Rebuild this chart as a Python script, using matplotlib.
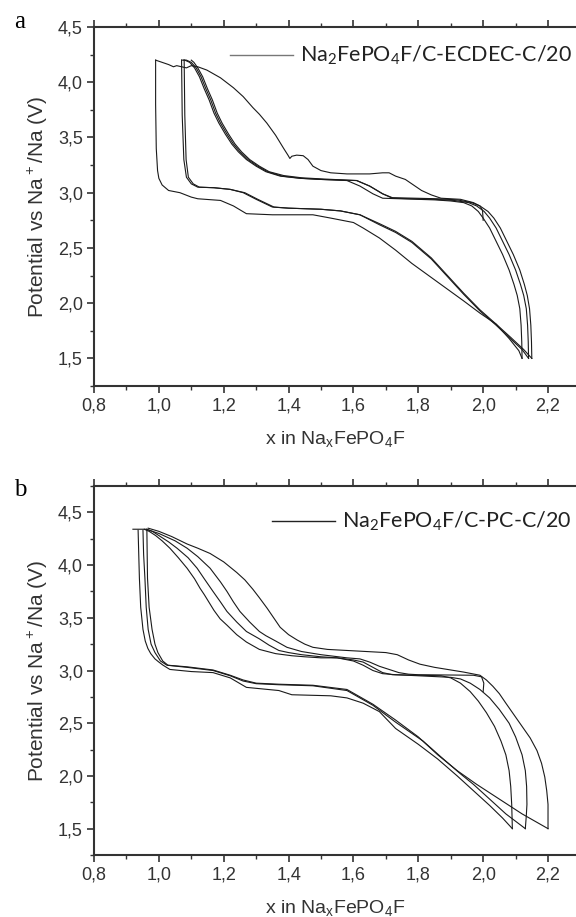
import numpy as np
import matplotlib.pyplot as plt
from matplotlib.ticker import MultipleLocator

########################
#### Panel a (ECDEC) ###
########################

# first charge (starts at x=2.0), then the high-voltage tail to x=0.99
a_ch1_x = [2.0, 1.998, 1.99, 1.97, 1.93, 1.87, 1.84, 1.81, 1.785, 1.76, 1.73, 1.71, 1.69, 1.65, 1.58,
           1.53, 1.50, 1.475, 1.46, 1.445, 1.425, 1.41, 1.404, 1.398, 1.385, 1.36, 1.333, 1.31, 1.29,
           1.26, 1.23, 1.19, 1.148, 1.12, 1.10, 1.085, 1.07, 1.055, 1.045, 1.03, 1.01, 0.99]
a_ch1_y = [2.75, 2.84, 2.88, 2.91, 2.94, 2.95, 2.98, 3.02, 3.07, 3.12, 3.15, 3.18, 3.18, 3.17, 3.17,
           3.18, 3.20, 3.24, 3.30, 3.335, 3.34, 3.33, 3.31, 3.34, 3.40, 3.52, 3.63, 3.71, 3.77,
           3.87, 3.95, 4.04, 4.11, 4.14, 4.15, 4.13, 4.14, 4.15, 4.14, 4.16, 4.18, 4.20]

# discharges
a_dis1_x = [0.99, 0.99, 0.992, 0.996, 1.0, 1.01, 1.03, 1.065, 1.10, 1.12, 1.19, 1.23, 1.27, 1.35, 1.475,
            1.53, 1.60, 1.63, 1.68, 1.73, 1.78, 1.86, 1.94, 1.99, 2.04, 2.08, 2.11, 2.12]
a_dis1_y = [4.20, 3.80, 3.40, 3.20, 3.13, 3.07, 3.02, 3.00, 2.96, 2.945, 2.93, 2.88, 2.81, 2.80, 2.80,
            2.77, 2.73, 2.68, 2.59, 2.48, 2.36, 2.19, 2.02, 1.91, 1.81, 1.68, 1.57, 1.50]

a_dis2_x = [1.07, 1.072, 1.077, 1.085, 1.10, 1.12, 1.17, 1.22, 1.26, 1.30, 1.35, 1.40, 1.50, 1.56,
            1.62, 1.68, 1.73, 1.78, 1.84, 1.89, 1.94, 1.99, 2.04, 2.08, 2.12, 2.14]
a_dis2_y = [4.20, 3.70, 3.30, 3.14, 3.08, 3.05, 3.045, 3.03, 3.00, 2.94, 2.87, 2.86, 2.85, 2.835,
            2.80, 2.71, 2.64, 2.55, 2.40, 2.24, 2.08, 1.93, 1.80, 1.69, 1.58, 1.50]

a_dis3_x = [1.078, 1.08, 1.084, 1.091, 1.106, 1.125, 1.17, 1.22, 1.265, 1.305, 1.355, 1.40, 1.50, 1.56,
            1.62, 1.68, 1.73, 1.78, 1.84, 1.89, 1.94, 1.99, 2.04, 2.085, 2.125, 2.15]
a_dis3_y = [4.20, 3.70, 3.30, 3.14, 3.08, 3.05, 3.045, 3.03, 3.00, 2.94, 2.87, 2.86, 2.85, 2.835,
            2.80, 2.72, 2.65, 2.56, 2.41, 2.25, 2.09, 1.94, 1.81, 1.69, 1.58, 1.50]

# charges after each discharge
a_ch2_x = [2.12, 2.119, 2.117, 2.113, 2.105, 2.095, 2.08, 2.06, 2.04, 2.02, 2.0, 1.985, 1.965, 1.94,
           1.90, 1.85, 1.69, 1.66, 1.62, 1.58, 1.50, 1.435, 1.374, 1.33, 1.30, 1.27, 1.245, 1.225,
           1.205, 1.185, 1.17, 1.155, 1.14, 1.125, 1.11, 1.095, 1.08, 1.07]
a_ch2_y = [1.50, 1.65, 1.80, 1.95, 2.07, 2.17, 2.30, 2.44, 2.56, 2.68, 2.77, 2.83, 2.88, 2.91,
           2.925, 2.935, 2.95, 2.99, 3.06, 3.11, 3.12, 3.13, 3.15, 3.19, 3.24, 3.30, 3.37, 3.44,
           3.53, 3.63, 3.72, 3.84, 3.94, 4.05, 4.13, 4.18, 4.20, 4.20]

a_ch3_x = [2.14, 2.139, 2.137, 2.133, 2.125, 2.115, 2.10, 2.08, 2.06, 2.04, 2.02, 2.003, 1.98, 1.955,
           1.91, 1.85, 1.72, 1.69, 1.65, 1.61, 1.50, 1.44, 1.38, 1.335, 1.305, 1.275, 1.25, 1.23,
           1.21, 1.19, 1.175, 1.16, 1.145, 1.13, 1.115, 1.10, 1.085, 1.077]
a_ch3_y = [1.50, 1.65, 1.80, 1.95, 2.07, 2.17, 2.30, 2.44, 2.56, 2.68, 2.77, 2.83, 2.88, 2.91,
           2.93, 2.94, 2.95, 2.99, 3.06, 3.11, 3.12, 3.13, 3.15, 3.19, 3.24, 3.30, 3.37, 3.44,
           3.53, 3.63, 3.72, 3.84, 3.94, 4.05, 4.13, 4.18, 4.20, 4.20]

a_ch4_x = [2.15, 2.149, 2.147, 2.143, 2.136, 2.127, 2.113, 2.093, 2.073, 2.053, 2.033, 2.015, 1.99, 1.965,
           1.92, 1.86, 1.72, 1.69, 1.65, 1.61, 1.50, 1.44, 1.385, 1.34, 1.31, 1.28, 1.255, 1.235,
           1.215, 1.195, 1.18, 1.165, 1.15, 1.135, 1.12, 1.108, 1.10]
a_ch4_y = [1.50, 1.65, 1.80, 1.95, 2.07, 2.17, 2.30, 2.44, 2.56, 2.68, 2.77, 2.83, 2.88, 2.91,
           2.935, 2.945, 2.955, 2.99, 3.06, 3.11, 3.125, 3.135, 3.155, 3.19, 3.24, 3.30, 3.37, 3.44,
           3.53, 3.63, 3.72, 3.84, 3.94, 4.05, 4.13, 4.18, 4.20]

#####################
#### Panel b (PC) ###
#####################

b_ch1_x = [2.0, 2.002, 1.995, 1.97, 1.80, 1.77, 1.74, 1.71, 1.68, 1.65, 1.62, 1.58, 1.50, 1.44, 1.395,
           1.36, 1.33, 1.31, 1.28, 1.25, 1.23, 1.21, 1.19, 1.158, 1.12, 1.087, 1.05, 1.0, 0.96, 0.92]
b_ch1_y = [2.80, 2.88, 2.94, 2.955, 2.96, 2.965, 2.98, 3.01, 3.04, 3.08, 3.11, 3.12, 3.15, 3.18, 3.22,
           3.28, 3.33, 3.37, 3.46, 3.56, 3.65, 3.75, 3.84, 3.97, 4.08, 4.16, 4.23, 4.30, 4.34, 4.34]

b_dis1_x = [0.936, 0.938, 0.940, 0.944, 0.951, 0.958, 0.966, 0.975, 0.988, 1.0, 1.013, 1.034, 1.10, 1.167,
            1.22, 1.27, 1.37, 1.41, 1.53, 1.58, 1.63, 1.68, 1.73, 1.80, 1.86, 1.92, 1.97, 2.02, 2.06, 2.09]
b_dis1_y = [4.33, 4.10, 3.875, 3.60, 3.39, 3.28, 3.21, 3.16, 3.11, 3.08, 3.05, 3.01, 2.99, 2.98,
            2.93, 2.84, 2.81, 2.77, 2.76, 2.74, 2.69, 2.61, 2.45, 2.30, 2.16, 2.00, 1.86, 1.72, 1.60, 1.50]

b_dis2_x = [0.951, 0.953, 0.957, 0.961, 0.967, 0.976, 0.988, 1.005, 1.025, 1.087, 1.167, 1.22, 1.26, 1.30,
            1.37, 1.475, 1.58, 1.66, 1.73, 1.815, 1.87, 1.93, 1.97, 2.02, 2.07, 2.13]
b_dis2_y = [4.33, 4.10, 3.875, 3.60, 3.39, 3.25, 3.17, 3.09, 3.05, 3.03, 3.00, 2.95, 2.90, 2.875,
            2.865, 2.855, 2.81, 2.67, 2.51, 2.33, 2.18, 2.02, 1.92, 1.78, 1.64, 1.50]

b_dis3_x = [0.963, 0.964, 0.965, 0.970, 0.979, 0.988, 0.997, 1.012, 1.028, 1.087, 1.167, 1.22, 1.26, 1.30,
            1.37, 1.475, 1.58, 1.66, 1.73, 1.80, 1.86, 1.92, 1.98, 2.05, 2.12, 2.20]
b_dis3_y = [4.34, 4.10, 3.875, 3.60, 3.39, 3.25, 3.17, 3.09, 3.05, 3.035, 3.005, 2.955, 2.91, 2.88,
            2.87, 2.86, 2.82, 2.68, 2.53, 2.37, 2.20, 2.05, 1.92, 1.78, 1.64, 1.50]

b_ch2_x = [2.09, 2.089, 2.088, 2.085, 2.08, 2.07, 2.055, 2.035, 2.01, 1.985, 1.96, 1.93, 1.90, 1.87,
           1.80, 1.72, 1.69, 1.66, 1.63, 1.60, 1.55, 1.50, 1.45, 1.41, 1.36, 1.31, 1.27, 1.24, 1.21,
           1.189, 1.17, 1.158, 1.14, 1.127, 1.11, 1.087, 1.06, 1.034, 1.01, 0.99, 0.97, 0.955]
b_ch2_y = [1.50, 1.62, 1.73, 1.90, 2.05, 2.20, 2.33, 2.47, 2.60, 2.71, 2.80, 2.88, 2.93, 2.95,
           2.955, 2.96, 2.98, 3.03, 3.08, 3.10, 3.12, 3.12, 3.13, 3.14, 3.16, 3.20, 3.27, 3.34, 3.43,
           3.49, 3.57, 3.63, 3.72, 3.78, 3.87, 3.97, 4.07, 4.16, 4.23, 4.28, 4.32, 4.34]

b_ch3_x = [2.13, 2.133, 2.135, 2.134, 2.13, 2.12, 2.10, 2.08, 2.05, 2.02, 1.99, 1.96, 1.93, 1.90,
           1.80, 1.73, 1.69, 1.66, 1.63, 1.60, 1.55, 1.50, 1.44, 1.40, 1.37, 1.34, 1.31, 1.27, 1.24,
           1.21, 1.19, 1.167, 1.14, 1.118, 1.09, 1.056, 1.03, 1.0, 0.98, 0.963]
b_ch3_y = [1.50, 1.62, 1.73, 1.90, 2.05, 2.20, 2.37, 2.50, 2.63, 2.74, 2.82, 2.88, 2.92, 2.935,
           2.95, 2.96, 2.97, 3.00, 3.05, 3.09, 3.12, 3.13, 3.15, 3.17, 3.19, 3.24, 3.30, 3.37, 3.46,
           3.56, 3.65, 3.75, 3.87, 3.97, 4.07, 4.16, 4.22, 4.28, 4.32, 4.34]

b_ch4_x = [2.20, 2.20, 2.20, 2.196, 2.19, 2.18, 2.166, 2.145, 2.12, 2.095, 2.07, 2.05, 2.03, 2.01, 1.99,
           1.94, 1.89, 1.85, 1.805, 1.77, 1.735, 1.70, 1.64, 1.58, 1.52, 1.475, 1.45, 1.426, 1.40,
           1.374, 1.354, 1.334, 1.31, 1.29, 1.265, 1.24, 1.20, 1.158, 1.12, 1.087, 1.04, 1.0, 0.967]
b_ch4_y = [1.50, 1.62, 1.73, 1.86, 1.99, 2.12, 2.24, 2.36, 2.47, 2.58, 2.69, 2.78, 2.85, 2.91, 2.955,
           2.985, 3.01, 3.03, 3.06, 3.10, 3.15, 3.17, 3.18, 3.19, 3.20, 3.22, 3.25, 3.29, 3.34,
           3.41, 3.50, 3.59, 3.69, 3.77, 3.86, 3.93, 4.03, 4.11, 4.16, 4.20, 4.27, 4.32, 4.35]

x_ticks = [0.8, 1.0, 1.2, 1.4, 1.6, 1.8, 2.0, 2.2]
y_ticks = [1.5, 2.0, 2.5, 3.0, 3.5, 4.0, 4.5]

panels = [
    dict(letter='a', label='Na$\\mathregular{_2}$FePO$\\mathregular{_4}$F/C-ECDEC-C/20',
         ylim=(1.25, 4.5), leg_color='#777777',
         curves=[(a_ch1_x, a_ch1_y), (a_dis1_x, a_dis1_y), (a_ch2_x, a_ch2_y), (a_dis2_x, a_dis2_y),
                 (a_ch3_x, a_ch3_y), (a_dis3_x, a_dis3_y), (a_ch4_x, a_ch4_y)]),
    dict(letter='b', label='Na$\\mathregular{_2}$FePO$\\mathregular{_4}$F/C-PC-C/20',
         ylim=(1.25, 4.75), leg_color='#222222',
         curves=[(b_ch1_x, b_ch1_y), (b_dis1_x, b_dis1_y), (b_ch2_x, b_ch2_y), (b_dis2_x, b_dis2_y),
                 (b_ch3_x, b_ch3_y), (b_dis3_x, b_dis3_y), (b_ch4_x, b_ch4_y)]),
]

fig = plt.figure(figsize=(5.76, 9.17), dpi=100)
positions = [[94/576, 1-386/917, 482/576, 359/917],
             [94/576, 1-855/917, 482/576, 369/917]]
letter_y = [1-22/917, 1-490/917]
leg_y = [55, 521]
leg_x0 = [230, 272]

for i, p in enumerate(panels):
    ax = fig.add_axes(positions[i])
    for cx, cy in p['curves']:
        ax.plot(cx, cy, color='#1a1a1a', lw=0.8)
    ax.set_xlim(0.8, 0.8 + 482/324.3)
    ax.set_ylim(*p['ylim'])
    ax.set_xticks(x_ticks)
    ax.set_yticks(y_ticks)
    ax.xaxis.set_minor_locator(MultipleLocator(0.1))
    ax.yaxis.set_minor_locator(MultipleLocator(0.25))
    ax.set_xticklabels([f'{t:.1f}'.replace('.', ',') for t in x_ticks])
    ax.set_yticklabels([f'{t:.1f}'.replace('.', ',') for t in y_ticks])
    ax.spines['right'].set_visible(False)
    for s in ['left', 'bottom', 'top']:
        ax.spines[s].set_linewidth(1.5)
        ax.spines[s].set_color('#333333')
    ax.tick_params(which='major', direction='out', length=5, width=1.2, color='#333333',
                   labelsize=13, labelcolor='#333333', pad=3)
    ax.tick_params(which='minor', direction='out', length=3, width=1.0, color='#333333')
    ax.tick_params(axis='x', which='both', top=True, labeltop=False)
    for lab in ax.get_xticklabels() + ax.get_yticklabels():
        lab.set_family('Liberation Sans')
    ax.set_xlabel('x in Na$\\mathregular{_x}$FePO$\\mathregular{_4}$F', fontsize=14,
                  family='Liberation Sans', color='#333333', labelpad=11)
    ax.set_ylabel('Potential vs Na$\\mathregular{^+}$/Na (V)', fontsize=15,
                  family='Liberation Sans', color='#333333', labelpad=6)
    # legend drawn by hand in figure pixels
    fig.lines.append(plt.Line2D([leg_x0[i]/576, (leg_x0[i]+63)/576],
                                [1-leg_y[i]/917, 1-leg_y[i]/917],
                                transform=fig.transFigure, color=p['leg_color'], lw=1.0))
    fig.text((leg_x0[i]+70)/576, 1-leg_y[i]/917, p['label'], fontsize=15.5, family='Lato',
             color='#222222', va='center', ha='left')
    fig.text(20/576, letter_y[i], p['letter'], fontsize=18, family='Liberation Serif',
             va='center', ha='center')

fig.savefig('out.png', dpi=100)
